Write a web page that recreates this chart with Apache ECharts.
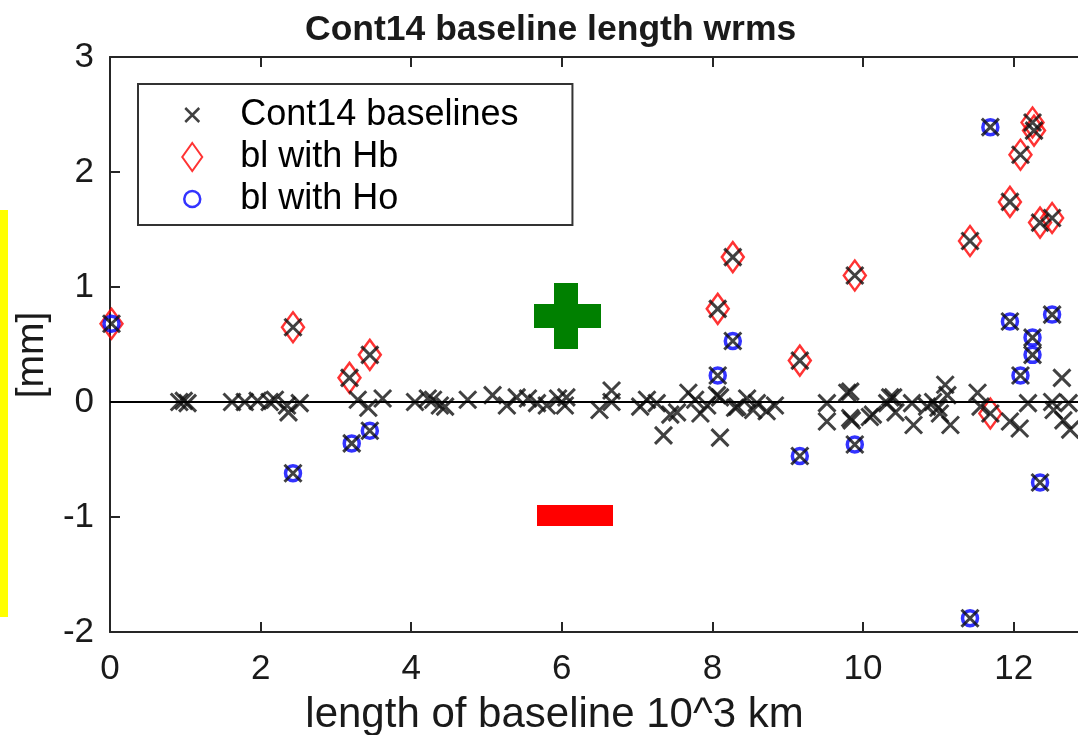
<!DOCTYPE html>
<html>
<head>
<meta charset="utf-8">
<script src="https://cdn.jsdelivr.net/npm/echarts@6/dist/echarts.min.js"></script>
<style>
  html, body { margin: 0; padding: 0; background: #fff; }
  #chart { width: 1078px; height: 735px; }
</style>
</head>
<body>
<div id="chart"></div>
<script>
// all Cont14 baselines (x = length in 10^3 km, y = wrms difference in mm)
const blX = [0.92, 0.98, 1.03, 1.62, 1.79, 1.96, 2.12, 2.19, 2.35, 2.37, 2.52,
  3.29, 3.43, 3.62, 4.05, 4.22, 4.29, 4.38, 4.45, 4.75, 5.08, 5.27, 5.40, 5.55,
  5.67, 5.80, 5.95, 6.04, 6.06, 6.50, 6.66, 6.66, 7.04, 7.13, 7.26, 7.35, 7.44,
  7.53, 7.68, 7.77, 7.84, 7.93, 8.06, 8.10, 8.10, 8.30, 8.33, 8.46, 8.54, 8.59,
  8.72, 8.83, 9.52, 9.52, 9.79, 9.83, 9.83, 9.85, 10.09, 10.13, 10.32, 10.36,
  10.40, 10.43, 10.65, 10.67, 10.85, 10.93, 11.00, 11.02, 11.09, 11.12, 11.16,
  11.52, 11.56, 11.95, 12.08, 12.19, 12.51, 12.53, 12.64, 12.66, 12.73, 12.75,
  0.02, 2.43, 3.18, 3.45, 8.07, 8.27, 9.16, 9.89, 11.42, 11.69, 11.95, 12.09,
  12.25, 12.27, 12.35, 12.51,
  2.43, 3.21, 3.45, 8.07, 8.27, 9.16, 9.89, 11.42, 11.69, 11.95, 12.09, 12.25,
  12.25, 12.35, 12.51]
const blY = [0.00, 0.01, -0.01, 0.00, 0.00, 0.01, 0.00, 0.02, -0.03, -0.09, -0.01,
  0.02, -0.05, 0.03, 0.00, 0.03, 0.02, -0.03, -0.04, 0.02, 0.06, -0.03, 0.04, 0.03,
  -0.01, -0.03, 0.03, -0.03, 0.04, -0.07, 0.10, 0.00, -0.04, 0.02, -0.01, -0.29, -0.11,
  -0.09, 0.08, 0.02, -0.10, -0.03, 0.06, -0.31, 0.04, -0.05, -0.04, 0.03, -0.07, -0.01,
  -0.08, -0.03, -0.01, -0.17, 0.08, -0.14, 0.09, -0.16, -0.13, -0.11, -0.01, 0.04,
  0.04, -0.09, -0.01, -0.20, -0.04, 0.00, -0.05, -0.10, 0.15, 0.06, -0.20,
  0.08, -0.04, -0.17, -0.23, -0.01, 0.00, -0.07, 0.21, -0.16, -0.01, -0.24,
  0.68, 0.65, 0.21, 0.41, 0.81, 1.26, 0.36, 1.10, 1.40, -0.10, 1.74, 2.15,
  2.43, 2.36, 1.56, 1.60,
  -0.62, -0.36, -0.25, 0.23, 0.53, -0.47, -0.37, -1.88, 2.39, 0.70, 0.23, 0.41,
  0.56, -0.70, 0.76]

// baselines with Hb
const hbX = [0.02, 2.43, 3.18, 3.45, 8.07, 8.27, 9.16, 9.89, 11.42, 11.69, 11.95,
  12.09, 12.25, 12.27, 12.35, 12.51]
const hbY = [0.68, 0.65, 0.21, 0.41, 0.81, 1.26, 0.36, 1.10, 1.40, -0.10, 1.74,
  2.15, 2.43, 2.36, 1.56, 1.60]

// baselines with Ho
const hoX = [0.02, 2.43, 3.21, 3.45, 8.07, 8.27, 9.16, 9.89, 11.42, 11.69, 11.95,
  12.09, 12.25, 12.25, 12.35, 12.51]
const hoY = [0.68, -0.62, -0.36, -0.25, 0.23, 0.53, -0.47, -0.37, -1.88, 2.39, 0.70,
  0.23, 0.41, 0.56, -0.70, 0.76]

const xMin = 0, xMax = 13, xStep = 2
const yMin = -2, yMax = 3, yStep = 1

const font = '"Liberation Sans", Arial, sans-serif'
const axisColor = '#262626'
const toPairs = (xs, ys) => xs.map((x, i) => [x, ys[i]])

const crossSymbol = 'path://M0,0L10,10M0,10L10,0'
// legend icons padded inside a 30x30 box so they keep their own size
const crossIcon = 'path://M8,8L22,22M8,22L22,8M0,0M30,30'
const diamondIcon = 'path://M15,1L25,15L15,29L5,15Z M0,0M30,30'
const circleIcon = 'path://M7,15A8,8 0 1,1 23,15A8,8 0 1,1 7,15Z M0,0M30,30'

const axisCommon = {
  type: 'value',
  axisLine: { show: true, onZero: false, lineStyle: { color: axisColor, width: 2 } },
  axisTick: { show: true, inside: true, length: 10, lineStyle: { color: axisColor, width: 2 } },
  splitLine: { show: false }
}

const chart = echarts.init(document.getElementById('chart'))

chart.setOption({
  animation: false,
  backgroundColor: '#fff',
  title: {
    text: 'Cont14 baseline length wrms',
    left: 305,
    top: 12,
    padding: 0,
    textStyle: { fontFamily: font, fontSize: 35.5, fontWeight: 'bold', color: '#1a1a1a' }
  },
  // the plot box runs on past the right edge of the picture (x max 13 at 1089px)
  grid: { left: 110, top: 57, width: 979, height: 575, containLabel: false, outerBoundsMode: 'none' },
  legend: {
    orient: 'vertical',
    left: 138,
    top: 84,
    padding: [13, 54, 8, 38],
    itemGap: 6,
    itemWidth: 86,
    itemHeight: 30,
    selectedMode: false,
    backgroundColor: '#fff',
    borderColor: '#333',
    borderWidth: 2,
    borderRadius: 0,
    textStyle: { fontFamily: font, fontSize: 36, color: '#000' },
    data: [
      { name: 'Cont14 baselines', icon: crossIcon,
        itemStyle: { color: 'transparent', borderColor: '#111', borderWidth: 2.5 } },
      { name: 'bl with Hb', icon: diamondIcon,
        itemStyle: { color: 'transparent', borderColor: '#ff0000', borderWidth: 2 } },
      { name: 'bl with Ho', icon: circleIcon,
        itemStyle: { color: 'transparent', borderColor: '#0000ff', borderWidth: 2.5 } }
    ]
  },
  xAxis: [
    {
      ...axisCommon,
      position: 'bottom',
      min: xMin, max: xMax, interval: xStep,
      name: 'length of baseline 10^3 km',
      nameLocation: 'middle',
      nameGap: 62,
      nameTextStyle: { fontFamily: font, fontSize: 42, color: '#1a1a1a', padding: [0, 90, 0, 0] },
      axisLabel: { show: true, showMaxLabel: false, margin: 20, fontFamily: font, fontSize: 35, color: '#1a1a1a' }
    },
    {
      ...axisCommon,
      position: 'top',
      min: xMin, max: xMax, interval: xStep,
      axisLabel: { show: false }
    }
  ],
  yAxis: [
    {
      ...axisCommon,
      position: 'left',
      min: yMin, max: yMax, interval: yStep,
      name: '[mm]',
      nameLocation: 'middle',
      nameGap: 55,
      nameTextStyle: { fontFamily: font, fontSize: 39, color: '#1a1a1a', padding: [0, 21, 0, 0] },
      axisLabel: { show: true, margin: 16, fontFamily: font, fontSize: 35, color: '#1a1a1a' }
    },
    {
      ...axisCommon,
      position: 'right',
      min: yMin, max: yMax, interval: yStep,
      axisLabel: { show: false }
    }
  ],
  series: [
    {
      name: 'bl with Hb',
      type: 'scatter',
      data: toPairs(hbX, hbY),
      symbol: 'diamond',
      symbolSize: [22, 30],
      clip: false,
      z: 2,
      itemStyle: { color: 'transparent', borderColor: '#ff0000', borderWidth: 2.5 },
      emphasis: { disabled: true }
    },
    {
      name: 'bl with Ho',
      type: 'scatter',
      data: toPairs(hoX, hoY),
      symbol: 'circle',
      symbolSize: 15,
      clip: false,
      z: 3,
      itemStyle: { color: 'transparent', borderColor: '#0000ff', borderWidth: 3.5 },
      emphasis: { disabled: true }
    },
    {
      name: 'Cont14 baselines',
      type: 'scatter',
      data: toPairs(blX, blY),
      symbol: crossSymbol,
      symbolSize: 17,
      clip: false,
      z: 4,
      itemStyle: { color: 'transparent', borderColor: '#111', borderWidth: 3 },
      emphasis: { disabled: true },
      markLine: {
        silent: true,
        symbol: ['none', 'none'],
        label: { show: false },
        lineStyle: { color: '#000', width: 2, type: 'solid' },
        data: [{ yAxis: 0 }]
      }
    }
  ],
  graphic: [
    { type: 'rect', shape: { x: 0, y: 210, width: 8, height: 407 }, style: { fill: '#ffff00' } },
    { type: 'rect', shape: { x: 534, y: 304, width: 67, height: 24 }, style: { fill: '#008000' } },
    { type: 'rect', shape: { x: 554, y: 283, width: 24, height: 66 }, style: { fill: '#008000' } },
    { type: 'rect', shape: { x: 537, y: 505, width: 76, height: 21 }, style: { fill: '#ff0000' } }
  ]
})
</script>
</body>
</html>
